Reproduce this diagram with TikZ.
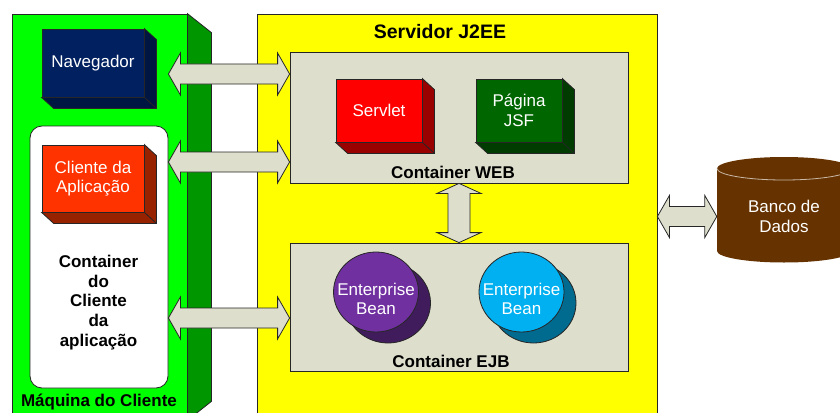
\documentclass[tikz,border=0pt]{standalone}
\usepackage{fontspec}
\setmainfont{Liberation Sans}
\usetikzlibrary{calc, shapes.geometric, shadows}

\definecolor{maqgreen}{RGB}{0,255,0}
\definecolor{maqside}{RGB}{0,150,0}
\definecolor{srvyellow}{RGB}{255,255,0}
\definecolor{contgray}{RGB}{221,222,203}
\definecolor{navfront}{RGB}{0,32,96}
\definecolor{navside}{RGB}{0,22,66}
\definecolor{clifront}{RGB}{255,51,0}
\definecolor{cliside}{RGB}{150,34,0}
\definecolor{servfront}{RGB}{255,0,0}
\definecolor{servside}{RGB}{153,0,0}
\definecolor{jsffront}{RGB}{0,102,0}
\definecolor{jsfside}{RGB}{0,60,0}
\definecolor{beanpurple}{RGB}{112,48,160}
\definecolor{beanpurpleback}{RGB}{64,28,92}
\definecolor{beancyan}{RGB}{0,176,240}
\definecolor{beancyanback}{RGB}{0,106,143}
\definecolor{dbbrown}{RGB}{102,51,0}

\tikzset{
  thinrim/.style={draw=black!85, line width=0.8pt},
  panel/.style={thinrim, inner sep=0pt},
  plain/.style={font=\fontsize{17}{19.5}\selectfont, align=center},
  boldlbl/.style={font=\bfseries\fontsize{17}{19.75}\selectfont, align=center},
  cube/.style={panel, plain, text=white, minimum width=102pt, minimum height=68pt},
  bean/.style={ellipse, panel, minimum width=85pt, minimum height=80pt},
  beantext/.style={plain, text=white, yshift=-7pt},
  fatarrow/.style={thinrim, fill=contgray, line join=miter},
}

% side and bottom faces of a cube node
\newcommand{\cubeside}[2]{%
  \filldraw[thinrim, fill=#2] (#1.north east) -- ++(12,11) -- ($(#1.south east)+(12,11)$)
    -- ($(#1.south west)+(12,11)$) -- (#1.south west) -- (#1.south east) -- cycle;
  \draw[thinrim] (#1.south east) -- ++(12,11);
}
% wide double arrows, left to right and top to bottom
\newcommand{\hdblarrow}[2]{%
  \draw[fatarrow] let \p1=(#1), \p2=(#2) in
    (\x1,\y1) -- (\x1+12pt,\y1+21pt) -- (\x1+12pt,\y1+10pt) -- (\x2-12pt,\y1+10pt)
    -- (\x2-12pt,\y1+21pt) -- (\x2,\y1) -- (\x2-12pt,\y1-21pt) -- (\x2-12pt,\y1-10pt)
    -- (\x1+12pt,\y1-10pt) -- (\x1+12pt,\y1-21pt) -- cycle;
}
\newcommand{\vdblarrow}[2]{%
  \draw[fatarrow] let \p1=(#1), \p2=(#2) in
    (\x1,\y1) -- (\x1+22pt,\y1-10pt) -- (\x1+11pt,\y1-10pt) -- (\x1+11pt,\y2+10pt)
    -- (\x1+22pt,\y2+10pt) -- (\x1,\y2) -- (\x1-22pt,\y2+10pt) -- (\x1-11pt,\y2+10pt)
    -- (\x1-11pt,\y1-10pt) -- (\x1-22pt,\y1-10pt) -- cycle;
}

\begin{document}
\begin{tikzpicture}[x=1pt, y=-1pt]
  \clip (0,0) rectangle (840,412);

  % client machine
  \node[panel, fill=maqgreen, minimum width=175pt, minimum height=406pt] (maq) at (99.5,217) {};
  \filldraw[thinrim, fill=maqside] (maq.north east) -- ++(24,19)
    -- ($(maq.south east)+(24,-19)$) -- (maq.south east) -- cycle;
  \node[boldlbl] (maqtitle) at (99,402) {Máquina do Cliente};
  \node[panel, fill=white, rounded corners=12pt, minimum width=138pt, minimum height=262pt] (clientc) at (99,257) {};
  \node[boldlbl] (clientlbl) at (98.5,302.5) {Container\\do\\Cliente\\da\\aplicação};

  % server
  \node[panel, fill=srvyellow, minimum width=400pt, minimum height=406pt] (srv) at (457,217) {};
  \node[boldlbl, font=\bfseries\fontsize{19.5}{22}\selectfont] (srvtitle) at (440,32) {Servidor J2EE};
  \node[panel, fill=contgray, minimum width=338pt, minimum height=131pt] (web) at (459,117.5) {};
  \node[boldlbl] (weblbl) at (453,172) {Container WEB};
  \node[panel, fill=contgray, minimum width=338pt, minimum height=128pt] (ejb) at (459,307) {};
  \node[boldlbl] (ejblbl) at (451,361) {Container EJB};

  % cubes
  \node[cube, fill=navfront] (nav) at (93,63) {Navegador};
  \node[cube, fill=clifront, minimum height=67pt] (cli) at (93,178.5) {Cliente da\\Aplicação};
  \node[cube, fill=servfront, minimum width=86pt, minimum height=63pt] (servlet) at (379,110.5) {Servlet};
  \node[cube, fill=jsffront, minimum width=86pt, minimum height=63pt] (jsf) at (519,110.5) {Página\\JSF};
  \foreach \n/\c in {nav/navside, cli/cliside, servlet/servside, jsf/jsfside}
    {\cubeside{\n}{\c}}

  % beans
  \node[bean, fill=beanpurple,
        general shadow={fill=beanpurpleback, draw=black!85, shadow xshift=12pt, shadow yshift=-11pt},
        label={[beantext]center:Enterprise\\Bean}] (bean1) at (376,292) {};
  \node[bean, fill=beancyan,
        general shadow={fill=beancyanback, draw=black!85, shadow xshift=12pt, shadow yshift=-11pt},
        label={[beantext]center:Enterprise\\Bean}] (bean2) at (521.5,292) {};

  % database
  \fill[dbbrown] (717,168.5) arc[start angle=180, end angle=360, x radius=67, y radius=11.5]
    -- (851,251) arc[start angle=0, end angle=180, x radius=67, y radius=11.5] -- cycle;
  \draw[dbbrown!35!white, line width=0.8pt] (717,168.5) arc[start angle=180, end angle=0, x radius=67, y radius=11.5];
  \node[plain, text=white, minimum width=134pt] (db) at (784,216.5) {Banco de\\Dados};

  % connections
  \hdblarrow{clientc.east |- 0,74}{web.west |- 0,74}
  \hdblarrow{clientc.east |- 0,162}{web.west |- 0,162}
  \hdblarrow{clientc.east |- 0,318}{ejb.west |- 0,318}
  \vdblarrow{web.south}{ejb.north}
  \hdblarrow{srv.east |- db}{db.west}
\end{tikzpicture}
\end{document}
